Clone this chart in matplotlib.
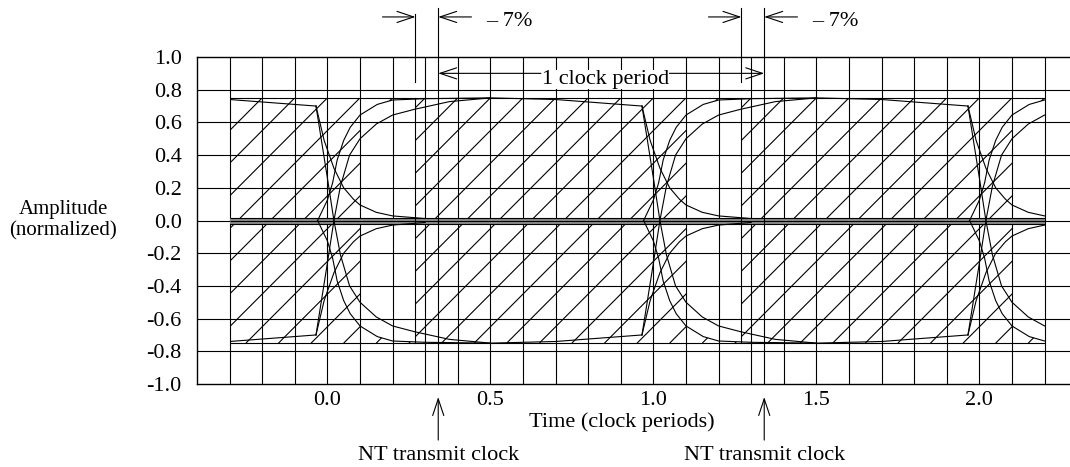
import numpy as np
import matplotlib
matplotlib.use("Agg")
import matplotlib.pyplot as plt
from matplotlib.patches import Rectangle, Polygon
from matplotlib.collections import LineCollection

plt.rcParams['font.family'] = ['Liberation Serif', 'DejaVu Serif']
FS = 16

# eye pattern, one transition (times relative to the transition instant)
transitions = [0.0, 1.0, 2.0]
flat_t = [-0.7, -0.5, -0.3, -0.035]
flat_a = [0.745, 0.75, 0.74, 0.70]
decay_t = [-0.035, -0.01, 0.02, 0.05, 0.08, 0.10, 0.15, 0.2, 0.3]
decay_a = [0.70, 0.49, 0.32, 0.20, 0.13, 0.095, 0.05, 0.028, 0.012]
rise_t = [-0.03, 0.0, 0.016, 0.03, 0.05, 0.07, 0.1, 0.153, 0.2, 0.3]
rise_a = [0.0, 0.125, 0.23, 0.37, 0.49, 0.57, 0.645, 0.71, 0.737, 0.745]
cross_t = [-0.035, 0.0, 0.02, 0.04, 0.068, 0.1, 0.15, 0.2, 0.267, 0.374, 0.5]
cross_a = [-0.70, -0.26, 0.0, 0.21, 0.40, 0.50, 0.59, 0.645, 0.68, 0.727, 0.75]

mask_level = 0.75
t_start, t_end = -0.3, 2.2
clear_from, clear_to = 0.1, 0.27      # unhatched window after each transition
clock_left, clock_right = 0.27, 0.34  # -7% window
zero_band = [-0.02, 0.0, 0.018]

x_ticks = [0.0, 0.5, 1.0, 1.5, 2.0]
y_ticks = [-1.0, -0.8, -0.6, -0.4, -0.2, 0.0, 0.2, 0.4, 0.6, 0.8, 1.0]

fig = plt.figure(figsize=(10.7, 4.67), dpi=100)
ax = fig.add_axes([197 / 1070, 83 / 467, 873 / 1070, 327 / 467])
ax.set_xlim(-0.4, 2.278)
ax.set_ylim(-1.0, 1.0)

lw = 0.8
k = 'black'

# hatching inside the mask
segs = []
for i in range(-4, 32):
    t0 = round(0.1 * i, 2)
    segs.append([(t0 - 0.75, -mask_level), (t0, mask_level)])
hc = LineCollection(segs, colors=k, linewidths=lw, zorder=1)
ax.add_collection(hc)
hatch_clip = Rectangle((t_start, -mask_level), t_end - t_start, 2 * mask_level,
                       transform=ax.transData)
hc.set_clip_path(hatch_clip)

# clear windows
for T in transitions:
    tt = np.linspace(T + clear_from, T + clear_to, 30)
    up = np.interp(tt - T, rise_t, rise_a)
    pts = list(zip(tt, up)) + list(zip(tt[::-1], -up[::-1]))
    ax.add_patch(Polygon(pts, closed=True, facecolor='white', edgecolor='none', zorder=2))

# grid
for v in y_ticks[1:-1]:
    ax.axhline(v, color=k, lw=lw, zorder=3)
ax.vlines(np.round(np.arange(t_start, t_end + 0.01, 0.1), 2), -1, 1, color=k, lw=lw, zorder=3)
ax.hlines([mask_level, -mask_level], t_start, t_end, color=k, lw=lw, zorder=3)

# zero band
ax.fill_between([t_start, t_end], zero_band[0], zero_band[-1], color='0.55', lw=0, zorder=3)
ax.hlines(zero_band, t_start, t_end, color=k, lw=lw, zorder=4)

# traces
curve_clip = Rectangle((t_start, -1), t_end - t_start, 2, transform=ax.transData)
for T in transitions:
    for xs, ys in [(flat_t, flat_a), (decay_t, decay_a), (rise_t, rise_a), (cross_t, cross_a)]:
        for s in (1, -1):
            ln, = ax.plot(np.array(xs) + T, s * np.array(ys), color=k, lw=lw, zorder=5)
            ln.set_clip_path(curve_clip)

# clock markers
ap = dict(arrowstyle='->,head_length=0.6,head_width=0.2', lw=lw, color=k,
          shrinkA=0, shrinkB=0, mutation_scale=20)
for T in [0.0, 1.0]:
    ax.plot([T + clock_left] * 2, [0.85, 1.26 if T == 0 else 1.3], color=k, lw=lw, clip_on=False)
    ax.plot([T + clock_left] * 2, [-mask_level, mask_level], color=k, lw=lw, zorder=5)
    ax.plot([T + clock_right] * 2, [-1.0, 1.3], color=k, lw=lw, clip_on=False, zorder=5)
    ax.annotate('', xy=(T + clock_left, 1.245), xytext=(T + 0.169, 1.245),
                arrowprops=ap, annotation_clip=False)
    ax.annotate('', xy=(T + clock_right, 1.245), xytext=(T + 0.442, 1.245),
                arrowprops=ap, annotation_clip=False)
    ax.text(T + 0.557, 1.215, '\u2013 7%', fontsize=FS, ha='center', va='center',
            clip_on=False)
    ax.annotate('', xy=(T + clock_right, -1.08), xytext=(T + clock_right, -1.343),
                arrowprops=ap, annotation_clip=False)
    ax.text(T + clock_right, -1.435, 'NT transmit clock', fontsize=FS, ha='center',
            va='center', clip_on=False)

ax.annotate('', xy=(clock_right, 0.90), xytext=(0.655, 0.90), arrowprops=ap, zorder=6)
ax.annotate('', xy=(1 + clock_right, 0.90), xytext=(1.049, 0.90), arrowprops=ap, zorder=6)
ax.text(0.853, 0.865, '1 clock period', fontsize=FS, ha='center', va='center', zorder=6,
        bbox=dict(facecolor='white', edgecolor='none', pad=0))

ax.set_xticks(x_ticks)
ax.set_xticklabels([f"{v:.1f}" for v in x_ticks], fontsize=FS)
ax.set_yticks(y_ticks)
ax.set_yticklabels([f"{v:.1f}" for v in y_ticks], fontsize=FS)
ax.tick_params(length=0)
ax.tick_params(axis='y', pad=11)
ax.tick_params(axis='x', pad=5)
ax.spines['right'].set_visible(False)
for sp in ['left', 'top', 'bottom']:
    ax.spines[sp].set_linewidth(1.0)

fig.text(622 / 1070, 1 - 422 / 467, 'Time (clock periods)', fontsize=FS, ha='center', va='center')
fig.text(63 / 1070, 1 - 220 / 467, 'Amplitude\n(normalized)', fontsize=15, ha='center',
         va='center', linespacing=1.15)

fig.savefig('out.png', dpi=100)
